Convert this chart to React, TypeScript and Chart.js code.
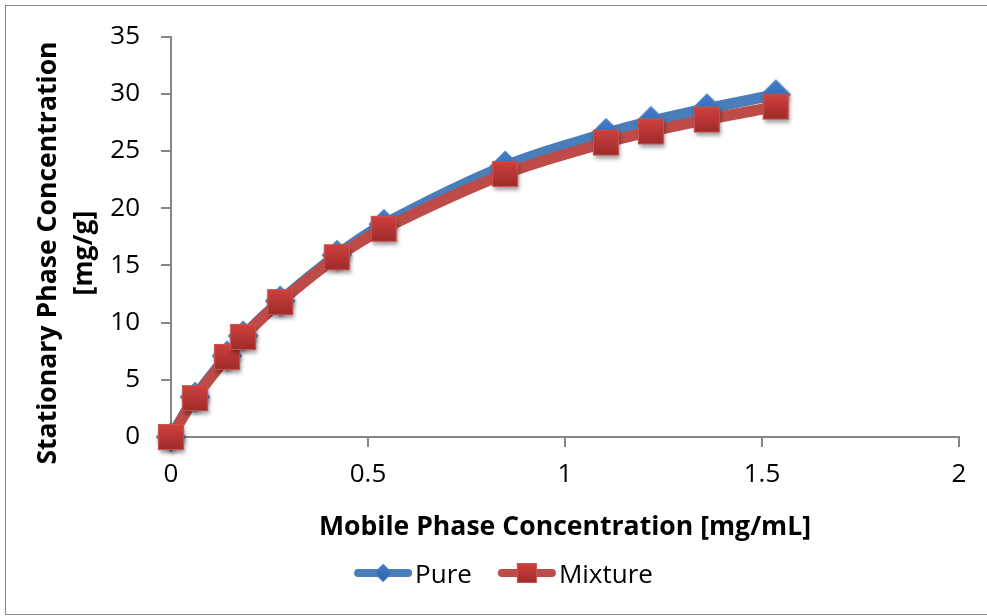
import React, { useEffect, useRef } from "react";
import { Chart, registerables } from "chart.js";

Chart.register(...registerables);

// ---- data ----
const mobileConc = [0, 0.061, 0.142, 0.183, 0.277, 0.421, 0.54, 0.848, 1.104, 1.218, 1.36, 1.535];
const pureValues = [0, 3.5, 7.1, 8.85, 11.9, 15.9, 18.6, 23.7, 26.55, 27.6, 28.7, 29.93];
const mixtureValues = [0, 3.4, 7.0, 8.75, 11.8, 15.72, 18.2, 23.0, 25.74, 26.72, 27.75, 28.88];
const seriesNames = ["Pure", "Mixture"];
const xTitle = "Mobile Phase Concentration [mg/mL]";
const yTitle = ["Stationary Phase Concentration", "[mg/g]"];
const xTicks = { min: 0, max: 2, step: 0.5 };
const yTicks = { min: 0, max: 35, step: 5 };

const FONT = '"Open Sans", "Noto Sans", sans-serif';
const BLUE = "#4a7ebb";
const RED = "#be4b48";

function makeMarker(
  shape: "square" | "diamond",
  half: number,
  top: string,
  bottom: string,
  border: string,
  shadow: boolean
): HTMLCanvasElement {
  const size = 2 * Math.ceil(half + 8);
  const c = document.createElement("canvas");
  c.width = size;
  c.height = size;
  const ctx = c.getContext("2d")!;
  const cx = size / 2;
  const cy = size / 2;
  const path = () => {
    ctx.beginPath();
    if (shape === "square") {
      ctx.rect(cx - half, cy - half, half * 2, half * 2);
    } else {
      ctx.moveTo(cx, cy - half);
      ctx.lineTo(cx + half, cy);
      ctx.lineTo(cx, cy + half);
      ctx.lineTo(cx - half, cy);
      ctx.closePath();
    }
  };
  const g = ctx.createLinearGradient(0, cy - half, 0, cy + half);
  g.addColorStop(0, top);
  g.addColorStop(1, bottom);
  ctx.save();
  if (shadow) {
    ctx.shadowColor = "rgba(0,0,0,0.38)";
    ctx.shadowBlur = 4;
    ctx.shadowOffsetX = 1;
    ctx.shadowOffsetY = 3;
  }
  path();
  ctx.fillStyle = g;
  ctx.fill();
  ctx.restore();
  path();
  ctx.lineWidth = 1.2;
  ctx.strokeStyle = border;
  ctx.stroke();
  return c;
}

const plainNumber = (v: any) => String(Number(v));

export default function App() {
  const ref = useRef<HTMLCanvasElement | null>(null);

  useEffect(() => {
    let chart: Chart | null = null;
    let cancelled = false;

    const build = () => {
      if (cancelled || !ref.current) return;
      const diamond = makeMarker("diamond", 14.5, "#3f7fd0", "#2c62a6", "#4a7ebb", true);
      const square = makeMarker("square", 12.5, "#cf413e", "#9f2b2a", "#c45451", true);
      const legendDiamond = makeMarker("diamond", 8.5, "#3f7fd0", "#2c62a6", "#4a7ebb", false);
      const legendSquare = makeMarker("square", 9.5, "#cf413e", "#9f2b2a", "#c45451", false);

      const decor = {
        id: "decor",
        afterDraw(ch: any) {
          const ctx: CanvasRenderingContext2D = ch.ctx;
          const area = ch.chartArea;
          ctx.save();
          // outer frame
          ctx.strokeStyle = "#868686";
          ctx.lineWidth = 1;
          ctx.strokeRect(5.5, 5.5, 1200, 609);

          // x title
          ctx.fillStyle = "#000";
          ctx.font = `bold 26.6px ${FONT}`;
          ctx.textAlign = "center";
          ctx.textBaseline = "alphabetic";
          ctx.fillText(xTitle, (area.left + area.right) / 2, area.bottom + 98);

          // y title (two lines, rotated)
          ctx.save();
          ctx.translate(56, 253);
          ctx.rotate(-Math.PI / 2);
          ctx.fillText(yTitle[0], 0, 0);
          ctx.fillText(yTitle[1], 0, 36);
          ctx.restore();

          // legend
          ctx.font = `26px ${FONT}`;
          ctx.textAlign = "left";
          const lineLen = 58;
          const gapText = 3;
          const gapItem = 26;
          const markers = [legendDiamond, legendSquare];
          const colors = [BLUE, RED];
          const widths = seriesNames.map((n) => ctx.measureText(n).width);
          const total =
            widths.reduce((a, w) => a + lineLen + gapText + w, 0) + gapItem * (seriesNames.length - 1);
          let x = 503.5 - total / 2;
          const ly = 573;
          seriesNames.forEach((name, i) => {
            ctx.beginPath();
            ctx.moveTo(x + 4, ly);
            ctx.lineTo(x + lineLen - 4, ly);
            ctx.strokeStyle = colors[i];
            ctx.lineWidth = 8;
            ctx.lineCap = "round";
            ctx.stroke();
            const m = markers[i];
            ctx.drawImage(m, x + lineLen / 2 - m.width / 2, ly - m.height / 2);
            ctx.fillStyle = "#000";
            ctx.fillText(name, x + lineLen + gapText, ly + 10);
            x += lineLen + gapText + widths[i] + gapItem;
          });
          ctx.restore();
        },
      };

      const tickFont = { family: FONT, size: 26 };
      chart = new Chart(ref.current, {
        type: "line",
        data: {
          datasets: [
            {
              label: seriesNames[0],
              data: mobileConc.map((x, i) => ({ x, y: pureValues[i] })),
              borderColor: BLUE,
              backgroundColor: BLUE,
              borderWidth: 11,
              borderJoinStyle: "round",
              borderCapStyle: "round",
              pointStyle: diamond as any,
              pointRadius: 12,
              tension: 0.35,
              clip: false as any,
              order: 2,
            },
            {
              label: seriesNames[1],
              data: mobileConc.map((x, i) => ({ x, y: mixtureValues[i] })),
              borderColor: RED,
              backgroundColor: RED,
              borderWidth: 11,
              borderJoinStyle: "round",
              borderCapStyle: "round",
              pointStyle: square as any,
              pointRadius: 12,
              tension: 0.35,
              clip: false as any,
              order: 1,
            },
          ],
        },
        options: {
          responsive: false,
          animation: false,
          events: [],
          layout: { padding: { top: 36, right: 28, left: 0, bottom: 0 } },
          plugins: {
            legend: { display: false },
            tooltip: { enabled: false },
          },
          scales: {
            x: {
              type: "linear",
              min: xTicks.min,
              max: xTicks.max,
              ticks: {
                stepSize: xTicks.step,
                color: "#000",
                font: tickFont,
                padding: 12,
                maxRotation: 0,
                callback: plainNumber,
              },
              grid: { drawOnChartArea: false, drawTicks: true, tickLength: 10, color: "#868686", lineWidth: 2 },
              border: { color: "#868686", width: 2 },
              afterFit: (s: any) => {
                s.height = 179;
              },
            },
            y: {
              type: "linear",
              min: yTicks.min,
              max: yTicks.max,
              ticks: { stepSize: yTicks.step, color: "#000", font: tickFont, padding: 21, callback: plainNumber },
              grid: { drawOnChartArea: false, drawTicks: true, tickLength: 10, color: "#868686", lineWidth: 2 },
              border: { color: "#868686", width: 2 },
              afterFit: (s: any) => {
                s.width = 171;
              },
            },
          },
        } as any,
        plugins: [decor],
      });
    };

    const fonts = (document as any).fonts;
    if (fonts && fonts.load) {
      Promise.all([fonts.load(`26px ${FONT}`), fonts.load(`bold 26px ${FONT}`)])
        .catch(() => {})
        .then(build);
    } else {
      build();
    }

    return () => {
      cancelled = true;
      if (chart) chart.destroy();
    };
  }, []);

  return (
    <div style={{ position: "fixed", left: 0, top: 0, width: 987, height: 616, background: "#fff" }}>
      <canvas ref={ref} width={987} height={616} style={{ display: "block", width: 987, height: 616 }} />
    </div>
  );
}
